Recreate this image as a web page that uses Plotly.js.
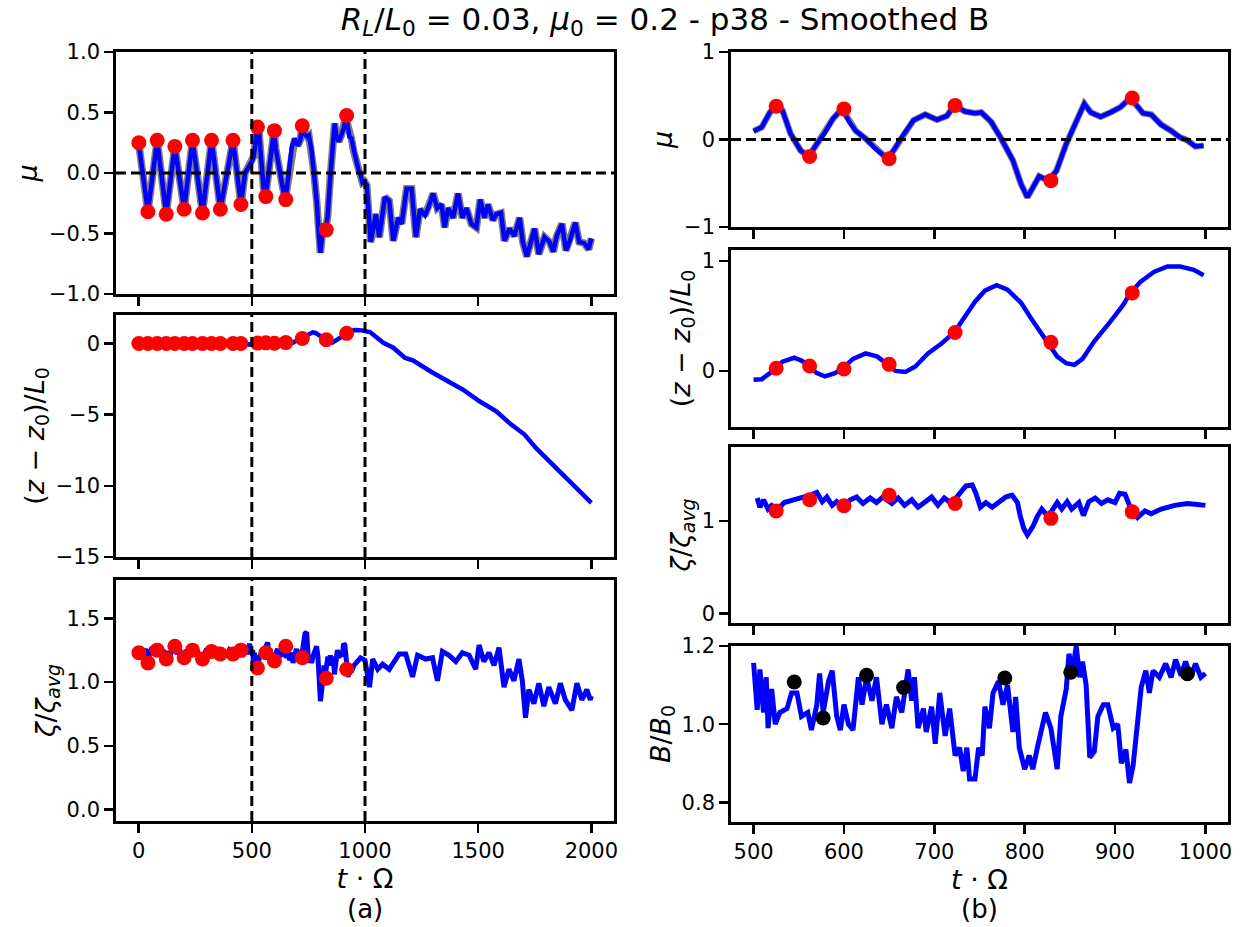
<!DOCTYPE html>
<html>
<head>
<meta charset="utf-8">
<script src="https://cdn.plot.ly/plotly-3.0.1.min.js"></script>
<style>html,body{margin:0;padding:0;background:#fff;}#chart{width:1250px;height:927px;}</style>
</head>
<body>
<div id="chart"></div>
<script>
// ---------- DATA ----------
// Pitch-angle cosine mu vs time (smoothed)
const muT = [0,41,82,122,160,201,238,282,322,361,417,452,470,490,500,509,518,525,532,541,552,561,570,579,588,598,606,613,624,635,648,655,664,677,690,703,714,722,734,745,752,763,774,787,796,803,809,816,826,835,846,857,866,873,884,895,906,917,922,931,940,951,962,971,980,989,998,1008,1025,1048,1063,1088,1107,1125,1147,1162,1184,1206,1225,1243,1265,1279,1301,1319,1338,1352,1367,1389,1411,1430,1448,1470,1492,1509,1528,1543,1565,1580,1601,1616,1638,1660,1683,1697,1715,1727,1749,1768,1793,1815,1832,1847,1870,1888,1905,1929,1946,1968,1988,2000];
const muV = [0.25,-0.32,0.27,-0.34,0.22,-0.30,0.27,-0.33,0.27,-0.30,0.27,-0.26,0.0,0.06,0.095,0.14,0.31,0.38,0.33,0.065,-0.125,-0.195,-0.05,0.08,0.24,0.35,0.2,0.1,0.01,-0.106,-0.22,-0.125,0.03,0.22,0.285,0.225,0.27,0.39,0.32,0.3,0.31,0.2,0.01,-0.24,-0.51,-0.66,-0.55,-0.42,-0.47,-0.36,-0.05,0.22,0.41,0.31,0.26,0.31,0.37,0.475,0.41,0.3,0.285,0.17,0.1,0.03,-0.01,-0.08,-0.07,-0.1,-0.57,-0.34,-0.53,-0.2,-0.23,-0.56,-0.37,-0.42,-0.13,-0.13,-0.53,-0.3,-0.35,-0.29,-0.17,-0.29,-0.26,-0.45,-0.29,-0.37,-0.17,-0.37,-0.29,-0.42,-0.45,-0.22,-0.37,-0.26,-0.39,-0.34,-0.33,-0.56,-0.46,-0.52,-0.37,-0.57,-0.69,-0.61,-0.46,-0.67,-0.53,-0.57,-0.65,-0.52,-0.42,-0.64,-0.56,-0.41,-0.57,-0.58,-0.63,-0.54];

// Displacement (z - z0)/L0 vs time
const zT = [0,100,200,300,400,450,500,509,518,525,532,545,554,561,570,579,590,598,610,624,637,648,657,668,679,693,708,722,734,745,756,769,781,796,807,818,826,836,846,855,864,877,895,909,917,928,943,958,972,987,998,1022,1081,1125,1176,1213,1294,1338,1404,1433,1506,1580,1639,1705,1756,1815,1874,1933,2000];
const zV = [0,0,0,0,0,-0.02,-0.08,-0.075,-0.02,0.02,0.085,0.12,0.09,0.04,-0.02,-0.05,-0.02,0.02,0.11,0.16,0.13,0.06,0.0,-0.01,0.04,0.16,0.25,0.35,0.49,0.63,0.73,0.78,0.74,0.62,0.48,0.35,0.26,0.13,0.07,0.055,0.11,0.27,0.45,0.6,0.71,0.81,0.9,0.95,0.95,0.92,0.87,0.8,0.05,-0.3,-1.0,-1.2,-2.0,-2.4,-3.0,-3.25,-4.06,-4.77,-5.6,-6.4,-7.35,-8.3,-9.2,-10.2,-11.2];

// Relative field-line spacing zeta/zeta_avg vs time
const zetaT = [0,10,20,30,41,50,60,70,82,92,100,110,122,132,140,150,160,170,180,190,201,210,220,230,238,250,260,270,282,292,300,310,322,332,340,350,361,370,380,390,400,417,430,440,452,460,470,480,490,498,504,507,511,516,520,527,534,543,552,563,570,576,581,587,592,599,607,614,621,629,636,643,653,660,667,675,682,689,697,704,711,719,728,735,742,746,751,757,764,772,779,786,792,795,799,803,809,814,819,825,830,836,841,847,852,860,865,871,878,885,892,900,905,911,916,925,933,940,951,966,980,991,1000,1020,1034,1056,1078,1107,1129,1151,1180,1210,1232,1268,1298,1320,1342,1371,1401,1430,1460,1489,1504,1525,1548,1570,1592,1614,1636,1658,1680,1695,1709,1724,1746,1768,1790,1812,1841,1863,1885,1914,1936,1958,1980,1995,2000];
const zetaV = [1.23,1.27,1.22,1.26,1.15,1.24,1.27,1.22,1.25,1.27,1.22,1.25,1.18,1.24,1.21,1.26,1.28,1.22,1.26,1.21,1.19,1.25,1.22,1.27,1.25,1.21,1.24,1.2,1.18,1.23,1.26,1.21,1.24,1.2,1.23,1.27,1.22,1.19,1.24,1.21,1.25,1.22,1.26,1.21,1.25,1.2,1.27,1.22,1.3,1.22,1.25,1.15,1.23,1.13,1.17,1.13,1.2,1.22,1.25,1.28,1.31,1.21,1.26,1.17,1.21,1.15,1.23,1.26,1.19,1.25,1.2,1.26,1.19,1.25,1.17,1.23,1.15,1.2,1.26,1.17,1.25,1.19,1.3,1.38,1.39,1.3,1.15,1.2,1.15,1.21,1.26,1.28,1.2,1.06,0.92,0.85,0.94,1.05,1.13,1.06,1.11,1.2,1.13,1.21,1.13,1.2,1.06,1.21,1.25,1.19,1.23,1.2,1.3,1.29,1.17,1.04,1.11,1.08,1.13,1.17,1.19,1.18,1.17,0.96,1.18,1.1,1.14,1.1,1.16,1.22,1.22,1.04,1.21,1.18,1.19,1.01,1.24,1.21,1.16,1.23,1.21,1.1,1.29,1.16,1.23,1.13,1.27,0.96,1.1,1.01,1.18,1.01,0.72,0.94,0.83,0.99,0.81,0.96,0.83,0.99,0.86,0.78,0.99,0.86,0.94,0.86,0.89];

// Marked instants (red dots)
const dotT = [1,41,82,122,160,201,238,282,322,361,417,452,525,562,600,650,723,829,919];
const dotMu = [0.25,-0.32,0.27,-0.34,0.22,-0.30,0.27,-0.33,0.27,-0.30,0.27,-0.26,0.38,-0.195,0.35,-0.22,0.39,-0.47,0.475];
const dotZ = [0,0,0,0,0,0,0,0,0,0,0,0,0.025,0.045,0.018,0.06,0.35,0.26,0.71];
const dotZeta = [1.23,1.15,1.25,1.18,1.28,1.19,1.25,1.18,1.24,1.22,1.22,1.25,1.11,1.23,1.165,1.28,1.19,1.03,1.10];

// Smoothed field strength B/B0 (500-1000)
const bT = [500,504,507,511,514,516,520,524,529,537,542,548,553,560,564,570,573,577,583,587,592,596,600,605,610,616,620,625,631,636,642,647,653,658,664,671,675,678,682,688,691,697,701,706,712,717,723,728,732,736,739,745,749,753,756,761,765,771,776,781,787,790,794,800,805,809,814,820,823,829,836,840,846,849,853,857,861,864,868,872,877,881,887,892,898,903,907,912,916,920,925,929,934,938,942,949,956,962,967,973,978,984,989,995,1000];
const bV = [1.157,1.037,1.14,1.03,1.12,0.99,1.09,1.0,1.03,1.04,1.08,1.08,1.02,1.03,0.985,1.05,1.13,1.03,1.11,1.137,1.02,0.985,1.05,1.0,0.985,1.12,1.05,1.12,1.06,1.12,1.0,1.05,0.99,1.07,1.03,1.14,1.06,1.12,0.99,1.04,0.98,1.045,0.95,1.08,0.97,1.04,0.92,0.94,0.88,0.94,0.86,0.86,0.94,0.92,1.045,0.99,1.08,1.11,1.05,1.1,0.98,1.07,0.94,0.885,0.92,0.885,0.94,1.0,1.03,0.99,0.885,1.02,1.09,1.18,1.135,1.2,1.12,1.16,1.1,0.915,0.93,1.02,1.05,1.05,0.99,1.0,0.9,0.935,0.85,0.895,1.0,1.095,1.137,1.08,1.137,1.12,1.155,1.12,1.165,1.125,1.16,1.12,1.155,1.12,1.13];
const bDotT = [545,577,625,666,778,851,980];
const bDotV = [1.108,1.016,1.125,1.094,1.118,1.133,1.129];

// Phase boundaries (zoom window of panel b) and tick labels
const phaseBounds = [500, 1000];
const leftXTicks = [0, 500, 1000, 1500, 2000];
const rightXTicks = [500, 600, 700, 800, 900, 1000];
const panelLabels = ['(a)', '(b)'];
const titleText = '<i>R</i><sub><i>L</i></sub>/<i>L</i><sub>0</sub> = 0.03, <i>μ</i><sub>0</sub> = 0.2 - p38 - Smoothed B';

// ---------- STYLE ----------
const BLUE = '#0000ff', GRAY = '#808080', RED = '#ff0000';
const FONT = 'DejaVu Sans, sans-serif';
const H = 927;
function yd(top, bottom) { return [(H - bottom) / H, (H - top) / H]; }
const LX = [116/1250, 614/1250], RX = [731/1250, 1228/1250];

// keep only the points inside the zoom window [phaseBounds[0], phaseBounds[1]]
function win(t, v) {
  const ot = [], ov = [];
  for (let i = 0; i < t.length; i++) {
    if (t[i] >= phaseBounds[0] && t[i] <= phaseBounds[1]) { ot.push(t[i]); ov.push(v[i]); }
  }
  return [ot, ov];
}

function lineTrace(xy, ax, color, width) {
  return {x: xy[0], y: xy[1], xaxis: 'x' + ax, yaxis: 'y' + ax, type: 'scatter', mode: 'lines',
          line: {color: color, width: width}, hoverinfo: 'skip', showlegend: false};
}
function dotTrace(xy, ax, color, size) {
  return {x: xy[0], y: xy[1], xaxis: 'x' + ax, yaxis: 'y' + ax, type: 'scatter', mode: 'markers',
          marker: {color: color, size: size}, hoverinfo: 'skip', showlegend: false};
}
const traces = [];
// left column (axes 1..3)
traces.push(lineTrace([muT, muV], '', GRAY, 7.5));
traces.push(lineTrace([muT, muV], '', BLUE, 4.5));
traces.push(dotTrace([dotT, dotMu], '', RED, 15));
traces.push(lineTrace([zT, zV], '2', BLUE, 4.5));
traces.push(dotTrace([dotT, dotZ], '2', RED, 15));
traces.push(lineTrace([zetaT, zetaV], '3', BLUE, 5));
traces.push(dotTrace([dotT, dotZeta], '3', RED, 15));
// right column (axes 4..7), zoom window only
traces.push(lineTrace(win(muT, muV), '4', GRAY, 6.5));
traces.push(lineTrace(win(muT, muV), '4', BLUE, 4.5));
traces.push(dotTrace(win(dotT, dotMu), '4', RED, 15));
traces.push(lineTrace(win(zT, zV), '5', BLUE, 4.5));
traces.push(dotTrace(win(dotT, dotZ), '5', RED, 15));
traces.push(lineTrace(win(zetaT, zetaV), '6', BLUE, 5));
traces.push(dotTrace(win(dotT, dotZeta), '6', RED, 15));
traces.push(lineTrace([bT, bV], '7', BLUE, 5));
traces.push(dotTrace([bDotT, bDotV], '7', 'black', 15));

const TICKFONT = {family: FONT, size: 21, color: 'black'};
const LABFONT = {family: FONT, size: 27, color: 'black'};
function xAxis(domain, range, ticks, anchor, labels, title) {
  const a = {domain: domain, range: range, anchor: anchor, tickvals: ticks, showticklabels: labels,
    ticks: 'outside', ticklen: 9, tickwidth: 2.5, tickcolor: 'black',
    showline: true, mirror: true, linewidth: 2.8, linecolor: 'black',
    showgrid: false, zeroline: false, tickfont: TICKFONT};
  if (title) a.title = {text: title, font: LABFONT, standoff: 0};
  return a;
}
function yAxis(domain, range, ticks, fmt, anchor, title) {
  return {domain: domain, range: range, anchor: anchor, tickvals: ticks, tickformat: fmt,
    ticks: 'outside', ticklen: 9, tickwidth: 2.5, tickcolor: 'black',
    showline: true, mirror: true, linewidth: 2.8, linecolor: 'black',
    showgrid: false, zeroline: false, tickfont: TICKFONT,
    title: {text: title, font: LABFONT, standoff: 4}};
}
const LR = [-100, 2100], RR = [475, 1025];
const layout = {
  width: 1250, height: 927, margin: {l: 0, r: 0, t: 0, b: 0},
  paper_bgcolor: 'white', plot_bgcolor: 'white', showlegend: false,
  font: {family: FONT, color: 'black'},
  title: {text: titleText, x: 665/1250, xanchor: 'center', y: 1 - 19/927, yanchor: 'middle',
          font: {family: FONT, size: 31, color: 'black'}},
  xaxis:  xAxis(LX, LR, leftXTicks, 'y', false),
  xaxis2: xAxis(LX, LR, leftXTicks, 'y2', false),
  xaxis3: xAxis(LX, LR, leftXTicks, 'y3', true, '<i>t</i> · Ω'),
  xaxis4: xAxis(RX, RR, rightXTicks, 'y4', false),
  xaxis5: xAxis(RX, RR, rightXTicks, 'y5', false),
  xaxis6: xAxis(RX, RR, rightXTicks, 'y6', false),
  xaxis7: xAxis(RX, RR, rightXTicks, 'y7', true, '<i>t</i> · Ω'),
  yaxis:  yAxis(yd(52, 294), [-1, 1], [-1, -0.5, 0, 0.5, 1], '.1f', 'x', '<i>μ</i>'),
  yaxis2: yAxis(yd(315, 557), [-15, 2], [-15, -10, -5, 0], 'd', 'x2', '(<i>z</i> − <i>z</i><sub>0</sub>)/<i>L</i><sub>0</sub>'),
  yaxis3: yAxis(yd(580, 821), [-0.09, 1.8], [0, 0.5, 1, 1.5], '.1f', 'x3', '<i>ζ</i>/<i>ζ</i><sub><i>avg</i></sub>'),
  yaxis4: yAxis(yd(52, 227), [-1, 1], [-1, 0, 1], 'd', 'x4', '<i>μ</i>'),
  yaxis5: yAxis(yd(250, 427), [-0.51, 1.1], [0, 1], 'd', 'x5', '(<i>z</i> − <i>z</i><sub>0</sub>)/<i>L</i><sub>0</sub>'),
  yaxis6: yAxis(yd(447, 623), [-0.1, 1.8], [0, 1], 'd', 'x6', '<i>ζ</i>/<i>ζ</i><sub><i>avg</i></sub>'),
  yaxis7: yAxis(yd(646, 822), [0.75, 1.2], [0.8, 1.0, 1.2], '.1f', 'x7', '<i>B</i>/<i>B</i><sub>0</sub>'),
  shapes: [],
  annotations: [
    {text: panelLabels[0], xref: 'paper', yref: 'paper', x: (LX[0] + LX[1]) / 2, y: 1 - 909/927,
     xanchor: 'center', yanchor: 'middle', showarrow: false, font: {family: FONT, size: 26, color: 'black'}},
    {text: panelLabels[1], xref: 'paper', yref: 'paper', x: (RX[0] + RX[1]) / 2, y: 1 - 909/927,
     xanchor: 'center', yanchor: 'middle', showarrow: false, font: {family: FONT, size: 26, color: 'black'}}
  ]
};
const DASH = {color: 'black', width: 3, dash: '10px,5px'};
['', '2', '3'].forEach(function (a) {
  phaseBounds.forEach(function (t) {
    layout.shapes.push({type: 'line', xref: 'x' + a, yref: 'y' + a + ' domain', x0: t, x1: t, y0: 0, y1: 1, line: DASH});
  });
});
['', '4'].forEach(function (a) {
  layout.shapes.push({type: 'line', xref: 'x' + a + ' domain', yref: 'y' + a, x0: 0, x1: 1, y0: 0, y1: 0, line: DASH});
});
Plotly.newPlot('chart', traces, layout, {staticPlot: true});
</script>
</body>
</html>
